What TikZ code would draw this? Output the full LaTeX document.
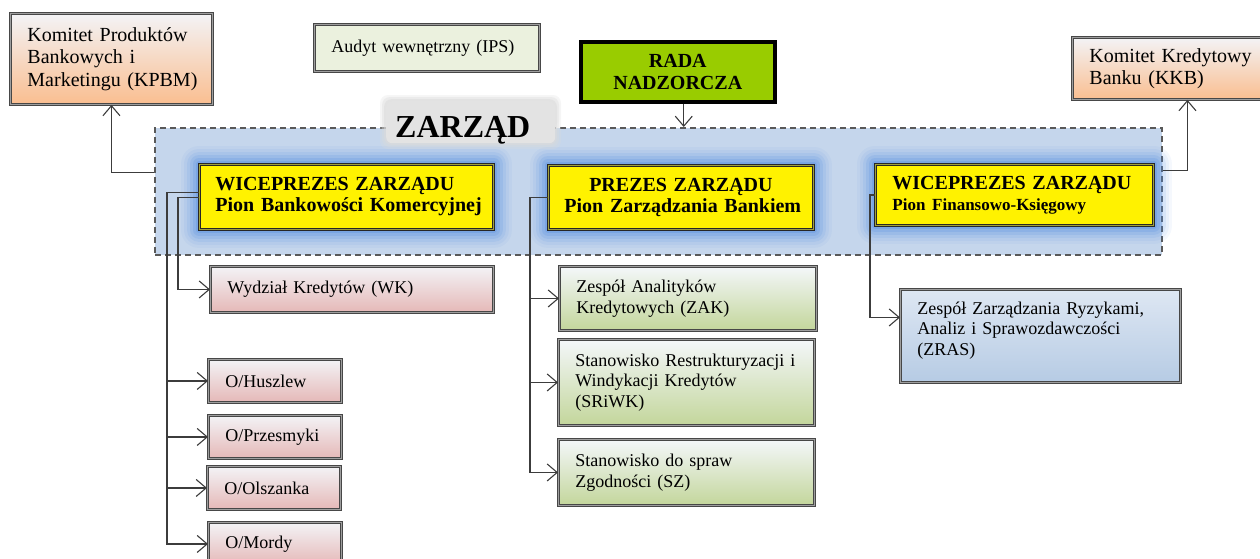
\documentclass[tikz,border=0pt]{standalone}
\usepackage{fontspec}
\setmainfont{Liberation Serif}
\usetikzlibrary{arrows.meta,calc}
\definecolor{orTop}{RGB}{243,243,246}
\definecolor{orBot}{RGB}{250,190,144}
\definecolor{pkTop}{RGB}{243,243,246}
\definecolor{pkBot}{RGB}{229,184,183}
\definecolor{gnTop}{RGB}{244,247,250}
\definecolor{gnBot}{RGB}{195,214,155}
\definecolor{blTop}{RGB}{222,231,243}
\definecolor{blBot}{RGB}{182,203,228}
\definecolor{audytFill}{RGB}{235,241,222}
\definecolor{radaFill}{RGB}{153,204,0}
\definecolor{zbFill}{RGB}{197,214,236}
\definecolor{glowc}{RGB}{80,140,225}
\definecolor{olivec}{RGB}{160,160,60}
\definecolor{linec}{RGB}{60,60,60}
\pgfdeclarelayer{back}
\pgfdeclarelayer{glow}
\pgfsetlayers{back,glow,main}
\begin{document}
\begin{tikzpicture}[x=1pt,y=-1pt,
  nobreak/.style={execute at begin node={\hyphenpenalty=10000\exhyphenpenalty=10000\hbadness=10000\hfuzz=50pt}},
  box/.style={nobreak, anchor=north west, rectangle, inner xsep=17pt, inner ysep=0pt, align=left,
    draw=black!72, line width=0.9pt, double=black!38, double distance=1.7pt,
    font=\fontsize{18}{20.5}\selectfont},
  orbox/.style={box, top color=orTop, bottom color=orBot, font=\fontsize{20}{22.5}\selectfont},
  pkbox/.style={box, top color=pkTop, bottom color=pkBot},
  gnbox/.style={box, top color=gnTop, bottom color=gnBot},
  blbox/.style={box, top color=blTop, bottom color=blBot},
  ylbox/.style={nobreak, anchor=north west, rectangle, inner xsep=16pt, inner ysep=0pt, align=left,
    fill=yellow, draw=black!85, line width=0.9pt, double=olivec, double distance=1.6pt,
    font=\bfseries\fontsize{20}{21}\selectfont},
  arr/.style={draw=linec, line width=1.1pt, arrows={-Straight Barb[length=10pt,width=17pt]}},
]
\useasboundingbox (0,0) rectangle (1260,558);
\clip (0,0) rectangle (1260,558);

% ZARZAD dashed region
\begin{pgfonlayer}{back}
\node[anchor=north west, rectangle, minimum width=1007pt, minimum height=127pt, inner sep=0pt,
  fill=zbFill, draw=black!65, line width=1.5pt, dash pattern=on 6pt off 4pt] (zb) at (154,127) {};
\end{pgfonlayer}

% top boxes
\node[orbox, minimum width=202pt, minimum height=91pt, text width=168pt] (kpbm) at (10,13)
  {Komitet~Produktów\\Bankowych~i\\Marketingu~(KPBM)};
\node[box, fill=audytFill, minimum width=225pt, minimum height=47pt, text width=191pt] (audyt) at (314,24)
  {Audyt~wewnętrzny~(IPS)};
\node[anchor=north west, rectangle, fill=radaFill, draw=black, line width=3.5pt, inner sep=0pt,
  minimum width=194pt, minimum height=60pt, align=center, font=\bfseries\fontsize{20}{22}\selectfont] (rada) at (579,40)
  {RADA\\NADZORCZA};
\node[orbox, minimum width=230pt, minimum height=62pt, text width=196pt] (kkb) at (1072,37)
  {Komitet~Kredytowy\\Banku~(KKB)};

% ZARZAD label
\fill[white, rounded corners=10pt] (380,96) rectangle (561,126);
\foreach \d/\o in {6/0.25,4/0.35,2/0.5}
  \fill[black!14, opacity=\o, rounded corners=8pt] (386-\d,101-\d) rectangle (555+\d,143+\d);
\node[anchor=north west, rectangle, fill=black!11, rounded corners=6pt, minimum width=169pt, minimum height=42pt, inner sep=0pt] (zl) at (386,101) {};
\node[anchor=base west, inner sep=0pt, font=\bfseries\fontsize{32}{34}\selectfont] (zt) at (395,137) {ZARZĄD};

% management boxes
\node[ylbox, minimum width=294pt, minimum height=65pt, text width=262pt] (w1) at (199,164)
  {WICEPREZES~ZARZĄDU\\Pion~Bankowości~Komercyjnej};
\node[ylbox, align=center, minimum width=265pt, minimum height=64pt, text width=233pt] (pz) at (548,165)
  {PREZES~ZARZĄDU\\Pion~Zarządzania~Bankiem};
\node[ylbox, inner xsep=17pt, minimum width=278pt, minimum height=61pt, text width=244pt] (w2) at (875,164)
  {WICEPREZES~ZARZĄDU\\{\fontsize{17}{19}\selectfont Pion~Finansowo-Księgowy}};

\begin{pgfonlayer}{glow}
\foreach \n in {w1,pz,w2}{
  \foreach \d/\o in {18/0.06,15/0.08,12/0.11,9/0.15,6/0.2,3/0.3}{
    \fill[glowc, opacity=\o, rounded corners=\d pt]
      ([shift={(-\d pt,\d pt)}]\n.north west) rectangle ([shift={(\d pt,-\d pt)}]\n.south east);
  }
}
\end{pgfonlayer}

% lower boxes
\node[pkbox, minimum width=283pt, minimum height=46pt, text width=249pt] (wk) at (210,266) {Wydział~Kredytów~(WK)};
\node[pkbox, minimum width=133pt, minimum height=43pt, text width=99pt] (hus) at (208,359) {O/Huszlew};
\node[pkbox, minimum width=133pt, minimum height=43pt, text width=99pt] (prz) at (208,415) {O/Przesmyki};
\node[pkbox, minimum width=133pt, minimum height=43pt, text width=99pt] (ols) at (207,466) {O/Olszanka};
\node[pkbox, minimum width=133pt, minimum height=43pt, text width=99pt] (mor) at (208,522) {O/Mordy};

\node[gnbox, minimum width=257pt, minimum height=64pt, text width=223pt] (zak) at (559,266)
  {Zespół~Analityków\\Kredytowych~(ZAK)};
\node[gnbox, minimum width=256pt, minimum height=86pt, text width=222pt] (sri) at (558,339)
  {Stanowisko~Restrukturyzacji~i\\Windykacji~Kredytów\\(SRiWK)};
\node[gnbox, minimum width=256pt, minimum height=66pt, text width=222pt] (sz) at (558,439)
  {Stanowisko~do~spraw\\Zgodności~(SZ)};

\node[blbox, minimum width=280pt, minimum height=93pt, text width=246pt] (zras) at (900,289)
  {Zespół~Zarządzania~Ryzykami,\\Analiz~i~Sprawozdawczości\\(ZRAS)\\[-6pt]\mbox{}};

% connectors
\draw[arr] ([yshift=19pt]zb.west) -| (kpbm.south);
\draw[arr] ([yshift=20.5pt]zb.east) -| (kkb.south);
\draw[arr] ([xshift=6pt]rada.south) -- ([xshift=6pt]rada.south |- zb.north);

\coordinate (tA) at ([xshift=-32pt,yshift=4.5pt]w1.west);
\coordinate (tB) at ([xshift=-21pt,yshift=-0.5pt]w1.west);
\draw[arr] ([yshift=4.5pt]w1.west) -- (tA) |- (mor.west);
\foreach \n in {hus,prz,ols} \draw[arr] (tA |- \n.west) -- (\n.west);
\draw[arr] ([yshift=-0.5pt]w1.west) -- (tB) |- (wk.west);

\coordinate (tP) at ([xshift=-18pt]pz.west);
\draw[arr] (pz.west) -- (tP) |- (sz.west);
\foreach \n in {zak,sri} \draw[arr] (tP |- \n.west) -- (\n.west);

\coordinate (tW) at ([xshift=-5pt]w2.west);
\draw[arr] (w2.west) -- (tW) |- ([yshift=18.5pt]zras.west);
\end{tikzpicture}
\end{document}
